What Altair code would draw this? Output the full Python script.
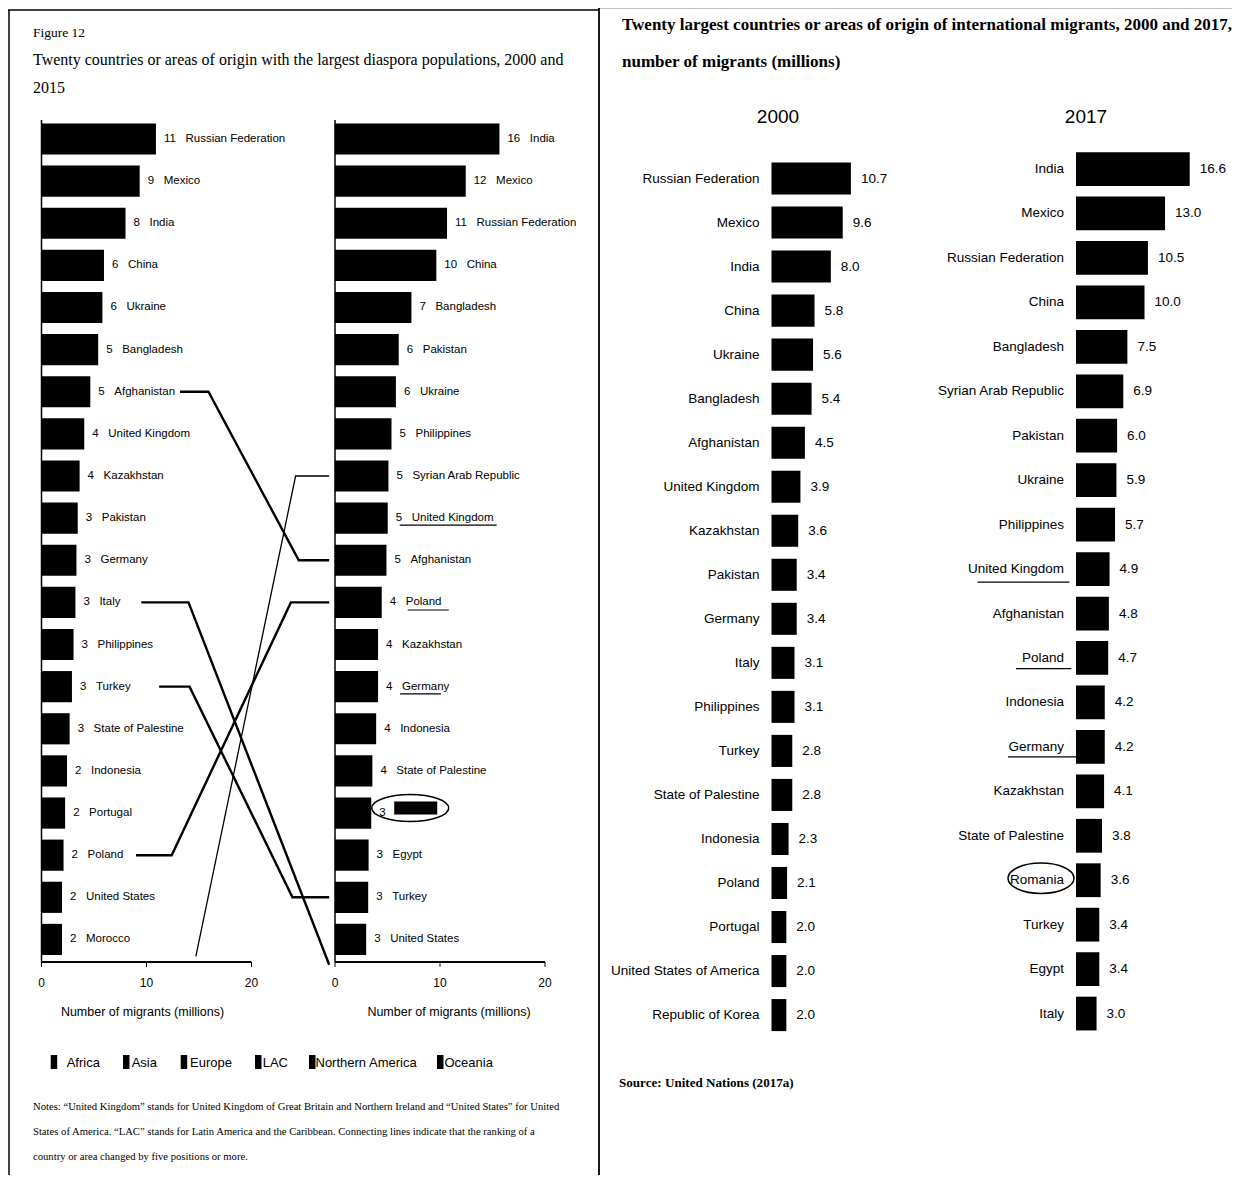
import altair as alt
import pandas as pd

# ---------------- data: Figure 12 (diaspora, 2000 and 2015) ----------------
fig12_countries_2000 = ["Russian Federation", "Mexico", "India", "China", "Ukraine", "Bangladesh",
                        "Afghanistan", "United Kingdom", "Kazakhstan", "Pakistan", "Germany", "Italy",
                        "Philippines", "Turkey", "State of Palestine", "Indonesia", "Portugal", "Poland",
                        "United States", "Morocco"]
fig12_values_2000 = [10.9, 9.35, 8.0, 5.95, 5.8, 5.4, 4.65, 4.07, 3.63, 3.45, 3.33, 3.23, 3.05, 2.9,
                     2.68, 2.43, 2.25, 2.1, 1.95, 1.95]
fig12_labels_2000 = [11, 9, 8, 6, 6, 5, 5, 4, 4, 3, 3, 3, 3, 3, 3, 2, 2, 2, 2, 2]

fig12_countries_2015 = ["India", "Mexico", "Russian Federation", "China", "Bangladesh", "Pakistan",
                        "Ukraine", "Philippines", "Syrian Arab Republic", "United Kingdom", "Afghanistan",
                        "Poland", "Kazakhstan", "Germany", "Indonesia", "State of Palestine", "Romania",
                        "Egypt", "Turkey", "United States"]
fig12_values_2015 = [15.66, 12.45, 10.67, 9.65, 7.28, 6.07, 5.8, 5.38, 5.09, 5.02, 4.9, 4.45, 4.1, 4.1,
                     3.92, 3.56, 3.45, 3.2, 3.16, 2.97]
fig12_labels_2015 = [16, 12, 11, 10, 7, 6, 6, 5, 5, 5, 5, 4, 4, 4, 4, 4, 3, 3, 3, 3]

fig12_underlined = ["United Kingdom", "Poland", "Germany"]
fig12_moved = ["Afghanistan", "Syrian Arab Republic", "Poland", "Italy", "Turkey"]
regions = ["Africa", "Asia", "Europe", "LAC", "Northern America", "Oceania"]

# ---------------- data: UN (2017a), 2000 and 2017 ----------------
un_countries_2000 = ["Russian Federation", "Mexico", "India", "China", "Ukraine", "Bangladesh",
                     "Afghanistan", "United Kingdom", "Kazakhstan", "Pakistan", "Germany", "Italy",
                     "Philippines", "Turkey", "State of Palestine", "Indonesia", "Poland", "Portugal",
                     "United States of America", "Republic of Korea"]
un_values_2000 = [10.7, 9.6, 8.0, 5.8, 5.6, 5.4, 4.5, 3.9, 3.6, 3.4, 3.4, 3.1, 3.1, 2.8, 2.8, 2.3,
                  2.1, 2.0, 2.0, 2.0]
un_countries_2017 = ["India", "Mexico", "Russian Federation", "China", "Bangladesh",
                     "Syrian Arab Republic", "Pakistan", "Ukraine", "Philippines", "United Kingdom",
                     "Afghanistan", "Poland", "Indonesia", "Germany", "Kazakhstan", "State of Palestine",
                     "Romania", "Turkey", "Egypt", "Italy"]
un_values_2017 = [16.6, 13.0, 10.5, 10.0, 7.5, 6.9, 6.0, 5.9, 5.7, 4.9, 4.8, 4.7, 4.2, 4.2, 4.1, 3.8,
                  3.6, 3.4, 3.4, 3.0]

notes_lines = [
    "Notes: \u201cUnited Kingdom\u201d stands for United Kingdom of Great Britain and Northern Ireland and \u201cUnited States\u201d for United",
    "States of America. \u201cLAC\u201d stands for Latin America and the Caribbean. Connecting lines indicate that the ranking of a",
    "country or area changed by five positions or more.",
]

# ---------------- layout helpers ----------------
def px(v):
    return v - 8

SANS = "'Liberation Sans', Arial, sans-serif"
SERIF = "'Liberation Serif', 'Times New Roman', serif"

XL = alt.Scale(domain=[0, 20], range=[px(41.5), px(251.5)], nice=False, zero=False)
XR = alt.Scale(domain=[0, 20], range=[px(335), px(545)], nice=False, zero=False)
YF = alt.Scale(domain=[0.5, 20.5], range=[px(117.9), px(960.5)], nice=False, zero=False)
X00 = alt.Scale(domain=[0, 10], range=[px(771.5), px(845.7)], nice=False, zero=False)
X17 = alt.Scale(domain=[0, 10], range=[px(1076), px(1144.5)], nice=False, zero=False)
Y00 = alt.Scale(domain=[0.5, 20.5], range=[px(156.5), px(1037.1)], nice=False, zero=False)
Y17 = alt.Scale(domain=[0.5, 20.5], range=[px(146.8), px(1035.8)], nice=False, zero=False)

one = pd.DataFrame({"x0": [0]})


def frame(countries, values, labels=None):
    d = pd.DataFrame({"country": countries, "value": values,
                      "rank": list(range(1, len(countries) + 1))})
    d["x0"] = 0
    if labels is not None:
        d["label"] = labels
        d["text"] = [str(l) if c == "Romania" else f"{l}\u00a0\u00a0\u00a0{c}"
                     for l, c in zip(labels, countries)]
    return d


def bars(d, xs, ys, half):
    return alt.Chart(d).transform_calculate(
        y0=f"datum.rank - {half}", y1=f"datum.rank + {half}"
    ).mark_rect(color="black").encode(
        x=alt.X("x0:Q", scale=xs, axis=None),
        x2="value:Q",
        y=alt.Y("y0:Q", scale=ys, axis=None),
        y2="y1:Q",
    )


def txt(s, x, y, size, font, align="left", weight="normal"):
    return alt.Chart(pd.DataFrame({"t": [s]})).mark_text(
        align=align, baseline="middle", font=font, fontSize=size, fontWeight=weight, color="black"
    ).encode(x=alt.value(px(x)), y=alt.value(px(y)), text="t:N")


def hline(x1, x2, y, w=1.5):
    return alt.Chart(one).mark_rule(color="black", strokeWidth=w).encode(
        x=alt.value(px(x1)), x2=alt.value(px(x2)), y=alt.value(px(y)))


def vline(x, y1, y2, w=1.5):
    return alt.Chart(one).mark_rule(color="black", strokeWidth=w).encode(
        x=alt.value(px(x)), y=alt.value(px(y1)), y2=alt.value(px(y2)))


layers = []

# ---------------- frames ----------------
layers += [hline(8, 599, 10), vline(9, 10, 1183), vline(599, 0, 1183, 1.8), hline(599, 1240, 7.5)]

# ================= LEFT FIGURE =================
layers += [
    txt("Figure 12", 33, 33, 13.5, SERIF),
    txt("Twenty countries or areas of origin with the largest diaspora populations, 2000 and", 33, 60, 16, SERIF),
    txt("2015", 33, 88, 16, SERIF),
]

d00 = frame(fig12_countries_2000, fig12_values_2000, fig12_labels_2000)
d15 = frame(fig12_countries_2015, fig12_values_2015, fig12_labels_2015)

for d, xs in ((d00, XL), (d15, XR)):
    layers.append(bars(d, xs, YF, 0.37))
    layers.append(alt.Chart(d).mark_text(align="left", baseline="middle", dx=8, font=SANS,
                                         fontSize=11.5, color="black").encode(
        x=alt.X("value:Q", scale=xs, axis=None),
        y=alt.Y("rank:Q", scale=YF, axis=None),
        text="text:N"))
    # axes: vertical line, baseline, ticks, tick labels, title
    layers.append(alt.Chart(one).mark_rule(color="black", strokeWidth=1.5).encode(
        x=alt.X("x0:Q", scale=xs, axis=None), y=alt.value(px(120)), y2=alt.value(px(962))))
    layers.append(alt.Chart(pd.DataFrame({"a": [0], "b": [20]})).mark_rule(color="black", strokeWidth=2).encode(
        x=alt.X("a:Q", scale=xs, axis=None), x2="b:Q", y=alt.value(px(962))))
    ticks = pd.DataFrame({"t": [0, 10, 20]})
    layers.append(alt.Chart(ticks).mark_rule(color="black", strokeWidth=1).encode(
        x=alt.X("t:Q", scale=xs, axis=None), y=alt.value(px(962)), y2=alt.value(px(967))))
    layers.append(alt.Chart(ticks).mark_text(baseline="middle", font=SANS, fontSize=12,
                                             color="black").encode(
        x=alt.X("t:Q", scale=xs, axis=None), y=alt.value(px(983)), text="t:Q"))
    layers.append(alt.Chart(pd.DataFrame({"t": [10], "s": ["Number of migrants (millions)"]})).mark_text(
        baseline="middle", font=SANS, fontSize=12.5, color="black",
        dx=-4 if xs is XL else 9).encode(
        x=alt.X("t:Q", scale=xs, axis=None), y=alt.value(px(1012)), text="s:N"))

# underlined labels in the 2015 panel (hand-drawn in the original)
ul_left = {"United Kingdom": (12, 109, 7), "Poland": (26, 67, 7.6), "Germany": (22, 63, 7.3)}
for c in fig12_underlined:
    a, b, yo = ul_left[c]
    layers.append(alt.Chart(d15[d15.country == c]).mark_rule(
        color="black", strokeWidth=1.2, xOffset=a, x2Offset=b, yOffset=yo).encode(
        x=alt.X("value:Q", scale=XR, axis=None), x2="value:Q",
        y=alt.Y("rank:Q", scale=YF, axis=None)))

# Romania: redacted label and circle
rom = d15[d15.country == "Romania"]
layers.append(alt.Chart(rom).mark_rect(color="black", xOffset=23, x2Offset=66, yOffset=-11.5,
                                       y2Offset=1.5).encode(
    x=alt.X("value:Q", scale=XR, axis=None), x2="value:Q",
    y=alt.Y("rank:Q", scale=YF, axis=None), y2="rank:Q"))
layers.append(alt.Chart(rom).mark_point(
    shape="M-1,0A1,0.35 0 1,0 1,0A1,0.35 0 1,0 -1,0Z", size=77 ** 2, filled=False,
    stroke="black", strokeWidth=1.5, xOffset=39, yOffset=-5, opacity=1).encode(
    x=alt.X("value:Q", scale=XR, axis=None), y=alt.Y("rank:Q", scale=YF, axis=None)))

# connecting lines (rank changed by five positions or more); x bends in axis units
CONNECTOR_X = {
    "Afghanistan": [13.2, 15.9, 24.5, 27.4],
    "Syrian Arab Republic": [14.7, 24.2, 27.4],
    "Poland": [9.0, 12.4, 23.75, 27.4],
    "Italy": [9.5, 14.0, 27.4],
    "Turkey": [11.2, 14.1, 23.9, 27.4],
}
rows = []
for c in fig12_moved:
    xsx = CONNECTOR_X[c]
    r0 = fig12_countries_2000.index(c) + 1 if c in fig12_countries_2000 else None
    r1 = fig12_countries_2015.index(c) + 1 if c in fig12_countries_2015 else None
    if r0 is not None and r1 is not None:
        ys = [r0, r0, r1, r1]
    elif r0 is None:
        ys = [20.4, r1, r1]
    else:
        ys = [r0, r0, 20.6]
    for i, (xx, yy) in enumerate(zip(xsx, ys)):
        rows.append({"country": c, "i": i, "x": xx, "y": yy})
conn = pd.DataFrame(rows)
for sel, w in ((conn.country != "Syrian Arab Republic", 2.4), (conn.country == "Syrian Arab Republic", 1.3)):
    layers.append(alt.Chart(conn[sel]).mark_line(color="black", strokeWidth=w).encode(
        x=alt.X("x:Q", scale=XL, axis=None),
        y=alt.Y("y:Q", scale=YF, axis=None),
        detail="country:N", order="i:Q"))

# legend
LEG_SQ = [50.7, 123, 180.7, 255, 309, 437]
LEG_TX = [66.7, 131.7, 190, 262.7, 315.5, 444.5]
for r, sx, tx in zip(regions, LEG_SQ, LEG_TX):
    layers.append(alt.Chart(one).mark_rect(color="black").encode(
        x=alt.value(px(sx)), x2=alt.value(px(sx + 6.5)), y=alt.value(px(1055)), y2=alt.value(px(1069))))
    layers.append(txt(r, tx, 1063, 13, SANS))

# notes
for i, line in enumerate(notes_lines):
    layers.append(txt(line, 33, 1107 + 25 * i, 10.65, SERIF))

# ================= RIGHT FIGURE =================
layers += [
    txt("Twenty largest countries or areas of origin of international migrants, 2000 and 2017,",
        622, 25, 17, SERIF, weight="bold"),
    txt("number of migrants (millions)", 622, 62, 17, SERIF, weight="bold"),
    txt("2000", 778, 117, 19, SANS, align="center"),
    txt("2017", 1086, 117, 19, SANS, align="center"),
    txt("Source: United Nations (2017a)", 619, 1083, 13.1, SERIF, weight="bold"),
]

u00 = frame(un_countries_2000, un_values_2000)
u17 = frame(un_countries_2017, un_values_2017)
for d, xs, ys, half in ((u00, X00, Y00, 0.364), (u17, X17, Y17, 0.38)):
    layers.append(bars(d, xs, ys, half))
    layers.append(alt.Chart(d).mark_text(align="right", baseline="middle", dx=-12, font=SANS,
                                         fontSize=13.5, color="black").encode(
        x=alt.X("x0:Q", scale=xs, axis=None), y=alt.Y("rank:Q", scale=ys, axis=None),
        text="country:N"))
    layers.append(alt.Chart(d).mark_text(align="left", baseline="middle", dx=10, font=SANS,
                                         fontSize=13.5, color="black").encode(
        x=alt.X("value:Q", scale=xs, axis=None), y=alt.Y("rank:Q", scale=ys, axis=None),
        text=alt.Text("value:Q", format=".1f")))

ul_right = {"United Kingdom": (-98.5, -6.6, 13), "Poland": (-60, -4.6, 10.6), "Germany": (-68, 0.7, 10)}
for c in fig12_underlined:
    a, b, yo = ul_right[c]
    layers.append(alt.Chart(u17[u17.country == c]).mark_rule(
        color="black", strokeWidth=1.2, xOffset=a, x2Offset=b, yOffset=yo).encode(
        x=alt.X("x0:Q", scale=X17, axis=None), x2="x0:Q",
        y=alt.Y("rank:Q", scale=Y17, axis=None)))

layers.append(alt.Chart(u17[u17.country == "Romania"]).mark_point(
    shape="M-1,0A1,0.46 0 1,0 1,0A1,0.46 0 1,0 -1,0Z", size=66 ** 2, filled=False,
    stroke="black", strokeWidth=1.5, xOffset=-35, yOffset=-2, opacity=1).encode(
    x=alt.X("x0:Q", scale=X17, axis=None), y=alt.Y("rank:Q", scale=Y17, axis=None)))

chart = alt.layer(*layers).resolve_scale(x="independent", y="independent").properties(
    width=1224, height=1167, autosize=alt.AutoSizeParams(type="none"), padding=0,
    background="white"
).configure_view(stroke=None)

chart.save("out.html", embed_options={"renderer": "svg", "actions": False})
